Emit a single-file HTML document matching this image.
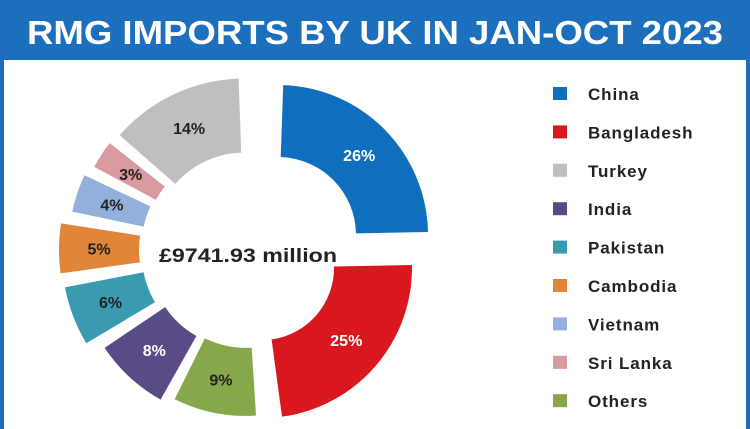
<!DOCTYPE html>
<html><head><meta charset="utf-8"><style>
html,body{margin:0;padding:0;background:#fff;}
svg{display:block;font-family:"Liberation Sans",sans-serif;}
</style></head><body>
<svg id="chart" width="750" height="429" viewBox="0 0 750 429">
<rect x="0" y="0" width="750" height="429" fill="#1b6fbd"/>
<rect x="4" y="60" width="742" height="369" fill="#ffffff"/>
<text x="375" y="44" text-anchor="middle" fill="#fff" font-size="33" font-weight="bold" textLength="696" lengthAdjust="spacingAndGlyphs">RMG IMPORTS BY UK IN JAN-OCT 2023</text>
<g id="slices"></g>
<text x="248" y="262" text-anchor="middle" fill="#222" font-size="19" font-weight="bold" textLength="178" lengthAdjust="spacingAndGlyphs">£9741.93 million</text>
<g id="legend"></g>
</svg>
<script>
const categories = ["China","Bangladesh","Others","India","Pakistan","Cambodia","Vietnam","Sri Lanka","Turkey"];
const values = [26,25,9,8,6,5,4,3,14];
const legendOrder = ["China","Bangladesh","Turkey","India","Pakistan","Cambodia","Vietnam","Sri Lanka","Others"];
const colors = {"China":"#0f6fbe","Bangladesh":"#d8171e","Others":"#86a84a","India":"#5a4a86","Pakistan":"#3a9bb0","Cambodia":"#e0853a","Vietnam":"#93b0dc","Sri Lanka":"#d99aa0","Turkey":"#bfbfbf"};
const labelColors = {"China":"#fff","Bangladesh":"#fff","India":"#fff"};
const gapsAfter = [0,4,3,3,3,3,3,3,4];
const explode = [0,0,6,8,14,16,14,12,6];
const shiftX = [28,12,-3,-3,-3,-3,-3,-3,-3];
const shiftY = [-15,18,0,0,0,0,0,0,0];
const innerR = [78,72,92,92,92,92,92,92,92];
const outerR = [150,150,160,165,172,172,165,162,166];
const NS="http://www.w3.org/2000/svg";
const cx=250, cy=250, startAngle=2;
function pt(a,r,ox,oy){const t=(a-90)*Math.PI/180;return [cx+ox+r*Math.cos(t), cy+oy+r*Math.sin(t)];}
const total = values.reduce((a,b)=>a+b,0);
const avail = 360 - gapsAfter.reduce((a,b)=>a+b,0);
function angleOf(v){return v/total*avail;}
const g=document.getElementById('slices');
let a=startAngle;
values.forEach((v,i)=>{
  const a0=a, a1=a+angleOf(v);
  const mid=(a0+a1)/2, mt=(mid-90)*Math.PI/180;
  const ox=explode[i]*Math.cos(mt)+shiftX[i], oy=explode[i]*Math.sin(mt)+shiftY[i];
  const R=outerR[i], rIn=innerR[i];
  const p1=pt(a0,R,ox,oy),p2=pt(a1,R,ox,oy),p3=pt(a1,rIn,ox,oy),p4=pt(a0,rIn,ox,oy);
  const large=(a1-a0)>180?1:0;
  const path=document.createElementNS(NS,'path');
  path.setAttribute('d',`M${p1[0]},${p1[1]} A${R},${R} 0 ${large} 1 ${p2[0]},${p2[1]} L${p3[0]},${p3[1]} A${rIn},${rIn} 0 ${large} 0 ${p4[0]},${p4[1]} Z`);
  path.setAttribute('fill',colors[categories[i]]);
  
  
  g.appendChild(path);
  const lp=pt(mid,(R+rIn)/2,ox,oy);
  const t=document.createElementNS(NS,'text');
  t.setAttribute('x',lp[0]);t.setAttribute('y',lp[1]+6);
  t.setAttribute('text-anchor','middle');t.setAttribute('font-size','16');t.setAttribute('font-weight','bold');
  t.setAttribute('fill',labelColors[categories[i]]||'#222');
  t.textContent=v+'%';
  
  
  g.appendChild(t);
  a=a1+gapsAfter[i];
});
const lg=document.getElementById('legend');
legendOrder.forEach((c,i)=>{
  const y=94+i*38.4;
  const r=document.createElementNS(NS,'rect');
  r.setAttribute('x',553);r.setAttribute('y',y-7);r.setAttribute('width',14);r.setAttribute('height',13);
  r.setAttribute('fill',colors[c]);
  
  
  lg.appendChild(r);
  const t=document.createElementNS(NS,'text');
  t.setAttribute('x',588);t.setAttribute('y',y+6);t.setAttribute('font-size','17');t.setAttribute('font-weight','bold');t.setAttribute('fill','#222');
  t.setAttribute('letter-spacing','0.9');
  t.textContent=c;
  
  
  lg.appendChild(t);
});
</script>
</body></html>
